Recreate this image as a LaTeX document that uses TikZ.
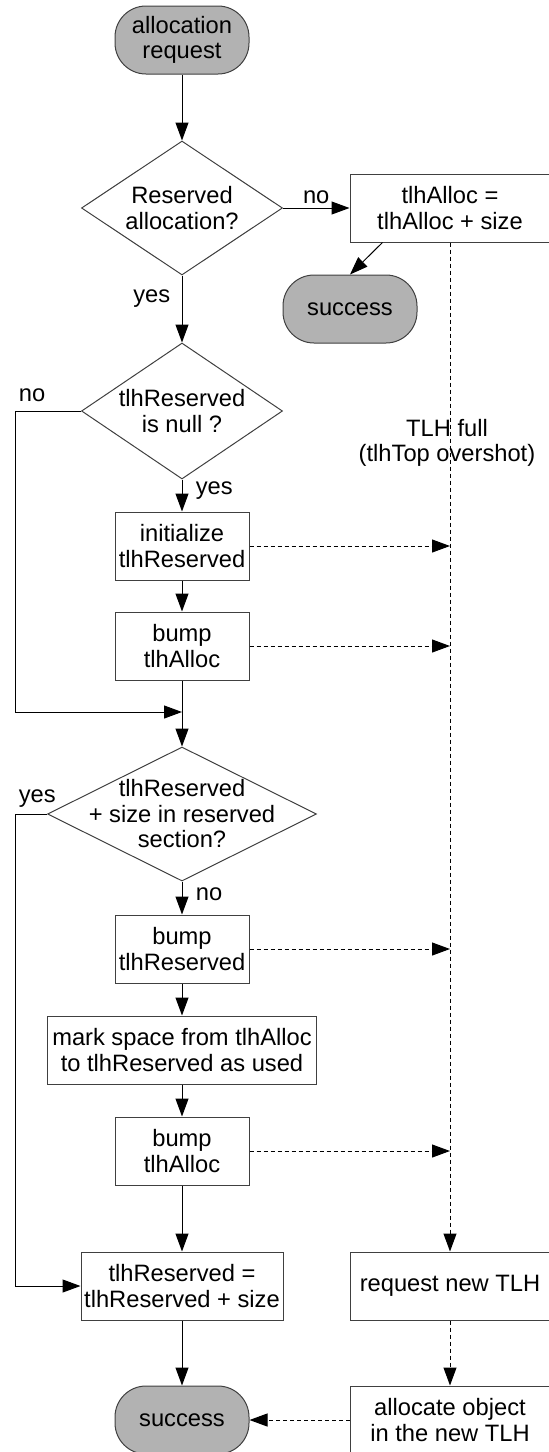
\documentclass[tikz,border=0pt]{standalone}
\usepackage{fontspec}
\setmainfont{Liberation Sans}
\usetikzlibrary{shapes.geometric, arrows.meta}

\definecolor{termgray}{RGB}{178,178,178}

\begin{document}
\begin{tikzpicture}[x=1pt, y=-1pt,
  every node/.style={font=\fontsize{23.7}{25.5}\selectfont, align=center},
  box/.style={draw=black!75, line width=1pt, rectangle, minimum width=134pt, minimum height=68pt, inner sep=2pt},
  widebox/.style={box, minimum width=200pt},
  terminal/.style={box, fill=termgray, rounded corners=31pt},
  decision/.style={draw=black!75, line width=1pt, diamond, inner sep=0pt},
  flow/.style={line width=1pt, -{Triangle[length=18pt,width=13pt]}},
  flowdash/.style={flow, dash pattern=on 4pt off 3pt}]
\path[use as bounding box, clip] (0,0) rectangle (549,1452);
\coordinate (leftX) at (15,0);
\coordinate (j1) at (182,712);
% main column
\node[terminal] (req) at (182,40) {allocation\\request};
\node[decision, minimum width=201pt, minimum height=134pt] (dec1) at (182,208) {};
\node (dec1txt) at (dec1) {Reserved\\allocation?};
\node[widebox] (alloc) at (450,208) {tlhAlloc =\\tlhAlloc + size};
\node[terminal] (succ1) at (350,309) {success};
\node[decision, minimum width=201pt, minimum height=136pt] (dec2) at (182,411) {};
\node (dec2txt) at (dec2) {tlhReserved\\is null ?};
\node[box] (init) at (182,546) {initialize\\tlhReserved};
\node[box] (bump1) at (182,646) {bump\\tlhAlloc};
\node[decision, minimum width=269pt, minimum height=134pt] (dec3) at (182,814) {};
\node (dec3txt) at (dec3) {tlhReserved\\+ size in reserved\\section?};
\node[box] (bumpR) at (182,949) {bump\\tlhReserved};
\node[box, minimum width=269pt] (mark) at (182,1050) {mark space from tlhAlloc\\to tlhReserved as used};
\node[box] (bump2) at (182,1151) {bump\\tlhAlloc};
\node[box, minimum width=202pt] (res) at (182,1286) {tlhReserved =\\tlhReserved + size};
\node[terminal] (succ2) at (182,1420) {success};
% right column
\node[widebox] (req2) at (450,1286) {request new TLH};
\node[widebox] (alloc2) at (450,1420) {allocate object\\in the new TLH};
\node (full) at (447,443) {TLH full\\(tlhTop overshot)};

\draw[flow] (req) -- (dec1);
\draw[flow] (dec1.east) -- (alloc.west) node[midway, above] {no};
\draw[flow] ([xshift=33pt]alloc.south west) -- (succ1.north);
\draw[flow] (dec1.south) -- (dec2.north) node[pos=0.34, left, xshift=-8pt] {yes};
\draw[flow] (dec2.west) -- (dec2.west -| leftX) node[above right, yshift=5pt] {no} -- (leftX |- j1) -- (j1);
\draw[flow] (dec2.south) -- (init.north) node[pos=0.35, right, xshift=10pt] {yes};
\draw[flow] (init) -- (bump1);
\draw[flow] (bump1) -- (dec3.north);
\draw[flow] (dec3.west) -- (dec3.west -| leftX) node[above right, yshift=3pt] {yes} -- (leftX |- res.west) -- (res.west);
\draw[flow] (dec3.south) -- (bumpR.north) node[pos=0.4, right, xshift=10pt] {no};
\draw[flow] (bumpR) -- (mark);
\draw[flow] (mark) -- (bump2);
\draw[flow] (bump2) -- (res);
\draw[flow] (res) -- (succ2);
% TLH full path
\draw[flowdash] (alloc.south) -- (req2.north);
\draw[flowdash] (init.east) -- (init.east -| alloc.south);
\draw[flowdash] (bump1.east) -- (bump1.east -| alloc.south);
\draw[flowdash] (bumpR.east) -- (bumpR.east -| alloc.south);
\draw[flowdash] (bump2.east) -- (bump2.east -| alloc.south);
\draw[flowdash] (req2) -- (alloc2);
\draw[flowdash] (alloc2.west) -- (succ2.east);
\end{tikzpicture}
\end{document}
